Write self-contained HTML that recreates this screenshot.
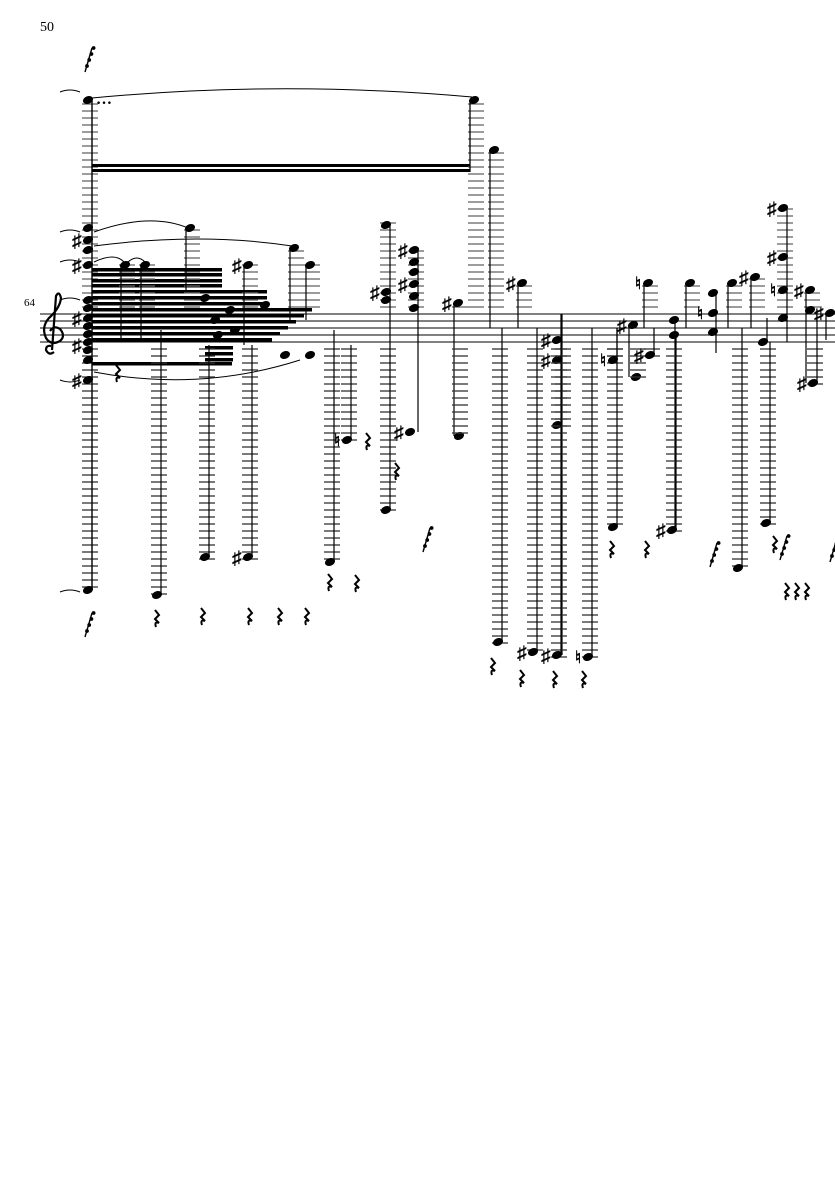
<!DOCTYPE html>
<html><head><meta charset="utf-8"><style>
html,body{margin:0;padding:0;background:#fff;width:835px;height:1181px;overflow:hidden}
svg{display:block}
text{font-family:"Liberation Serif",serif;fill:#000}
</style></head><body>
<svg id="s" width="835" height="1181" viewBox="0 0 835 1181" xmlns="http://www.w3.org/2000/svg">
<text x="40" y="31" font-size="14">50</text>
<text x="24" y="306" font-size="11">64</text>
<g stroke="#000" stroke-width="1">
<line x1="40" y1="314" x2="835" y2="314"/><line x1="40" y1="321" x2="835" y2="321"/><line x1="40" y1="328" x2="835" y2="328"/><line x1="40" y1="335" x2="835" y2="335"/><line x1="40" y1="342" x2="835" y2="342"/>
</g>
<path d="M54 352 q-5 4 -8 -2 q0 -5 5 -4 M52 350 L56 296 q3 -6 5 2 q-1 10 -12 20 q-8 9 -3 20 q5 8 14 3 q6 -5 0 -12 q-6 -4 -10 2" fill="none" stroke="#000" stroke-width="2.2"/>
<g id="g"></g>
</svg>
<script>
var g=document.getElementById('g'),h='';
function L(x1,y1,x2,y2,w,c){h+='<line x1="'+x1+'" y1="'+y1+'" x2="'+x2+'" y2="'+y2+'" stroke="'+(c||'#000')+'" stroke-width="'+(w||1)+'"/>';}
function N(x,y){h+='<ellipse cx="'+x+'" cy="'+y+'" rx="5.2" ry="3.8" transform="rotate(-22 '+x+' '+y+')" fill="#000"/>';}
function S(x,y){h+='<text x="'+(x-16)+'" y="'+(y+7)+'" font-size="19" font-family="DejaVu Sans" font-weight="bold">♯</text>';}
function Nat(x,y){h+='<text x="'+(x-13)+'" y="'+(y+6)+'" font-size="17" font-family="DejaVu Sans" font-weight="bold">♮</text>';}
function R(x,y){h+='<path d="M'+(x-2)+' '+(y-7)+' l4 5 l-4 4 l4 4 q-5 -2 -3 4" fill="none" stroke="#000" stroke-width="2"/>';}
function led(x,y){
 if(y<314){for(var k=307;k>=y-2;k-=7)L(x-6,k,x+10,k,1.3,'#666');}
 if(y>342){for(var k=349;k<=y+2;k+=7)L(x-6,k,x+10,k,1.3,'#333');}
}
function note(x,y,sy,acc){led(x,y);N(x,y);L(x+(sy<y?4:-4),y,x+(sy<y?4:-4),sy,1.2);if(acc==1)S(x,y);if(acc==2)Nat(x,y);}
led(88,100);led(88,590);L(92,100,92,590,1.4);
[100,228,240,250,265,300,308,318,326,334,342,350,360,380,590].forEach(function(y){N(88,y)});
S(88,240);S(88,265);S(88,318);S(88,345);S(88,380);
h+='<text x="96" y="104" font-size="16" font-weight="bold">…</text>';
h+='<rect x="92" y="164" width="378" height="3" fill="#000"/><rect x="92" y="169" width="378" height="3" fill="#000"/>';
led(474,100);N(474,100);L(470,100,470,172,1.3);
h+='<path d="M92 98 Q280 80 472 97" fill="none" stroke="#000"/>';
h+='<path d="M94 232 Q150 212 188 228" fill="none" stroke="#000"/>';
h+='<path d="M94 246 Q200 232 292 246" fill="none" stroke="#000"/>';
h+='<path d="M94 262 Q115 252 124 262 M128 262 Q137 254 145 262" fill="none" stroke="#000"/>';
h+='<path d="M94 372 Q200 392 300 360" fill="none" stroke="#000"/>';
h+='<path d="M80 92 q-10 -4 -20 0 M80 232 q-10 -4 -20 0 M80 262 q-10 -4 -20 0 M80 300 q-10 -4 -20 0 M80 380 q-10 4 -20 0 M80 592 q-10 -4 -20 0" fill="none" stroke="#000"/>';
[268,273,279,284].forEach(function(y){h+='<rect x="92" y="'+y+'" width="130" height="3.5" fill="#000"/>';});
[290,296,302].forEach(function(y){h+='<rect x="92" y="'+y+'" width="175" height="3.5" fill="#000"/>';});
[308,314,320,326,332,338].forEach(function(y,i){h+='<rect x="92" y="'+y+'" width="'+(220-i*8)+'" height="3.5" fill="#000"/>';});
[346,352,358].forEach(function(y){h+='<rect x="205" y="'+y+'" width="28" height="3.5" fill="#000"/>';});
h+='<rect x="92" y="362" width="140" height="3.5" fill="#000"/>';
note(125,265,340);note(145,265,340);note(190,228,290);
note(157,595,330);note(205,557,345);note(248,265,345,1);note(248,557,345,1);
note(294,248,320);note(310,265,320);
N(205,298);N(215,320);N(230,310);N(218,335);N(235,330);N(285,355);N(310,355);N(265,305);
note(330,562,330);note(347,440,345,2);
led(386,225);led(386,510);L(390,225,390,510,1.2);[225,292,300,510].forEach(function(y){N(386,y)});S(386,292);
led(414,250);L(418,250,418,432,1.2);[250,262,272,284,296,308].forEach(function(y){N(414,y)});S(414,250);S(414,284);N(410,432);S(410,432);
note(458,303,436,1);N(459,436);led(458,436);
note(494,150,328);
note(498,642,328);note(522,283,328,1);note(533,652,328,1);
led(561,425);L(562,314,562,655,1.2);[340,360,425].forEach(function(y){N(557,y)});S(557,340);S(557,360);note(557,655,314,1);
note(588,657,328,2);
note(613,527,328);note(613,360,328,2);
note(633,325,377,1);N(636,377);led(636,377);
note(648,283,328,2);
L(675,320,675,530,1.2);N(674,320);N(674,335);note(672,530,335,1);
note(650,355,328,1);note(690,283,328);
L(716,293,716,353,1.2);N(713,293);N(713,313);N(713,332);Nat(710,313);
note(732,283,328);note(755,277,328,1);
note(738,568,328);note(763,342,318);note(766,523,342);
led(783,208);L(787,208,787,342,1.2);[208,257,290,318].forEach(function(y){N(783,y)});S(783,208);S(783,257);Nat(783,290);
note(810,290,383,1);N(810,310);note(813,383,310,1);note(830,313,340,1);
[[118,372],[157,617],[203,615],[250,615],[280,615],[307,615],[330,581],[357,582],[368,440],[397,470],[493,665],[522,677],[555,678],[584,678],[612,548],[647,548],[787,590],[797,590],[807,590],[775,543]].forEach(function(p){R(p[0],p[1])});
[[88,60],[88,625],[426,540],[713,555],[833,550],[783,548]].forEach(function(p){L(p[0]-3,p[1]+12,p[0]+4,p[1]-12,1.4);for(var i=0;i<4;i++)h+='<circle cx="'+(p[0]-1+i*2.2)+'" cy="'+(p[1]+6-i*6)+'" r="1.9" fill="#000"/>';});
g.innerHTML=h;
</script>
</body></html>
